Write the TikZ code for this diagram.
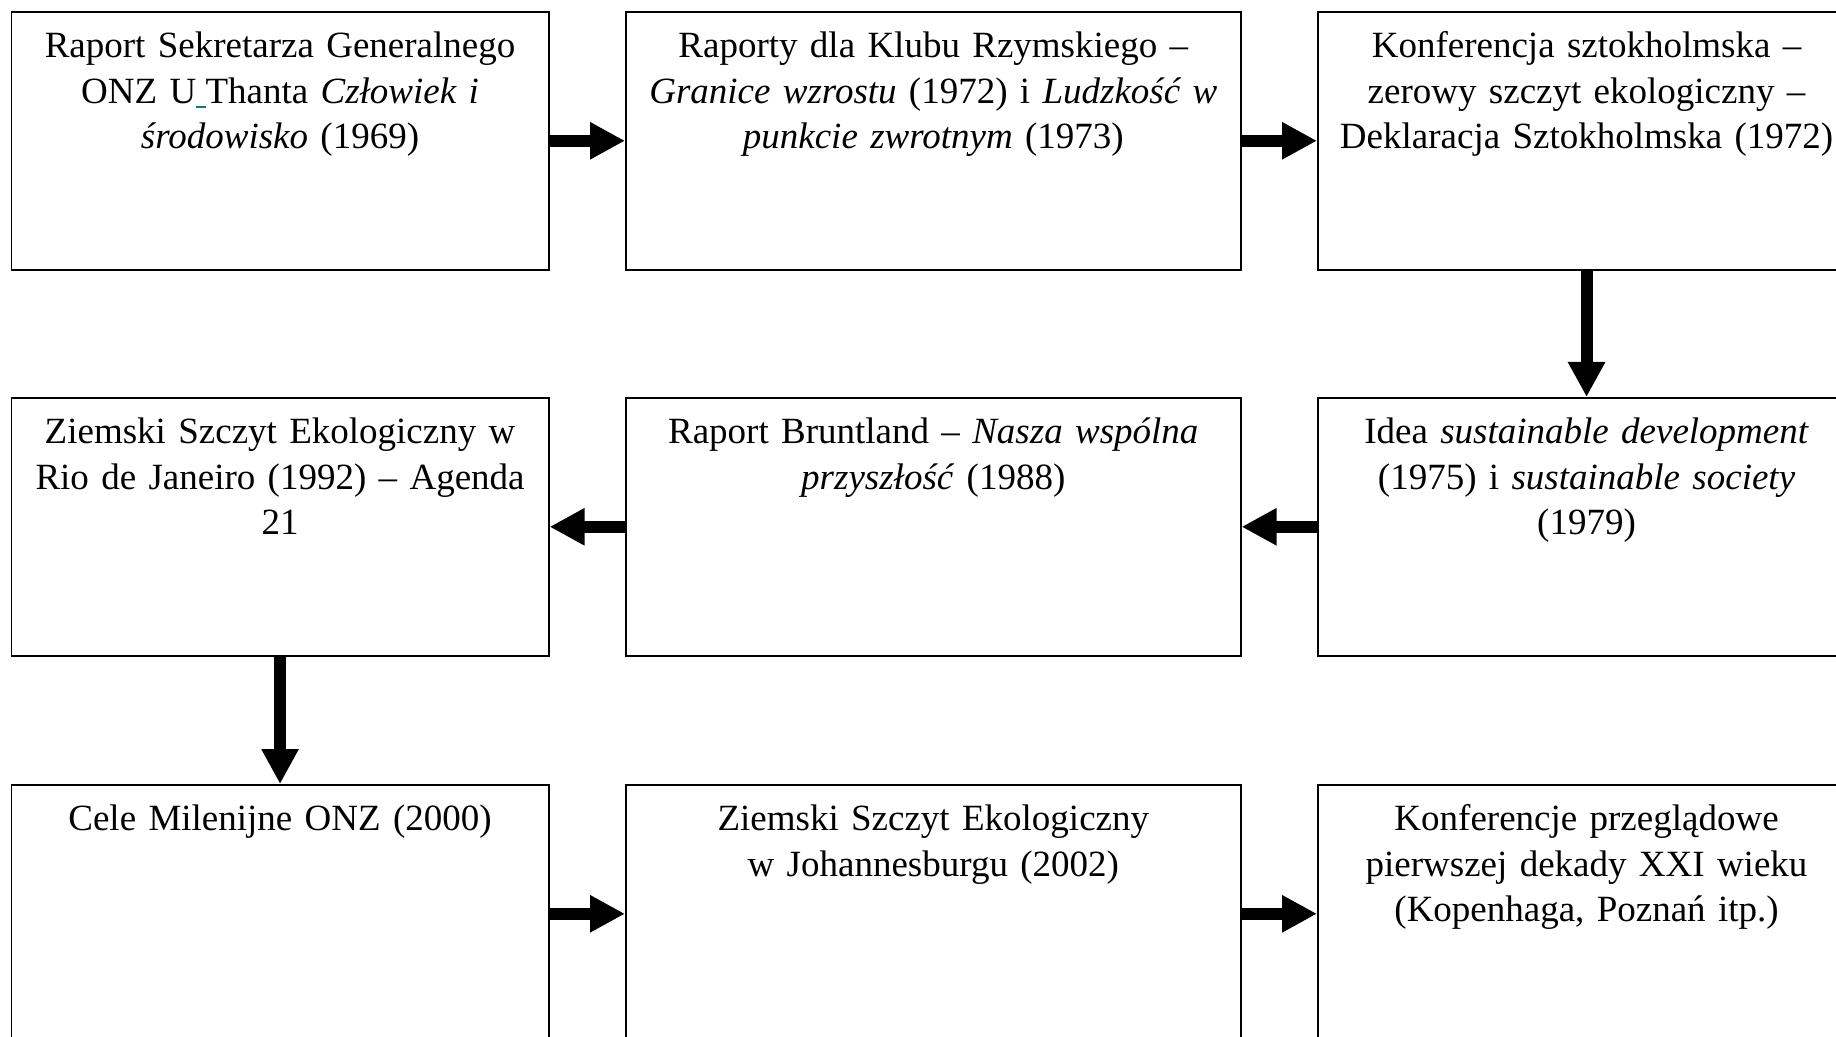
\documentclass[tikz,border=0pt]{standalone}
\usepackage{fontspec}
\setmainfont{Liberation Serif}
\usepackage{xcolor}
\usepackage{tikz}
\usetikzlibrary{positioning,arrows.meta}
\definecolor{ulmark}{RGB}{0,128,128}
\tikzset{
  stage/.style={draw, line width=0.8pt, inner sep=0pt, align=center, anchor=north west,
    text height=23pt, text depth=106pt},
  narrow/.style={stage, text width=268.75pt},
  wide/.style={stage, text width=307.5pt},
  flow/.style={line width=6pt, -{Triangle[width=17.5pt,length=17.5pt]}}
}

\begin{document}
\begin{tikzpicture}[x=0.5pt,y=-0.5pt]
  \fontsize{18.5pt}{22.75pt}\selectfont
    \path[use as bounding box, fill=white] (0,0) rectangle (1836,1037);
    \clip (0,0) rectangle (1836,1037);

    % first row
    \path (10.5,11) node[narrow] (uthant) {Raport Sekretarza Generalnego\\ ONZ U\textcolor{ulmark}{\rule[-2.5pt]{0.25em}{0.9pt}}Thanta \textit{Człowiek i}\\ \textit{środowisko} (1969)};
    \path (625,11) node[wide] (klub) {Raporty dla Klubu Rzymskiego --\\ \textit{Granice wzrostu} (1972) i \textit{Ludzkość w}\\ \textit{punkcie zwrotnym} (1973)};
    \path (1317,11) node[narrow] (sztokholm) {Konferencja sztokholmska --\\ zerowy szczyt ekologiczny --\\ Deklaracja Sztokholmska (1972)};

    % second row
    \path (10.5,397) node[narrow] (rio) {Ziemski Szczyt Ekologiczny w\\ Rio de Janeiro (1992) -- Agenda\\ 21};
    \path (625,397) node[wide] (bruntland) {Raport Bruntland -- \textit{Nasza wspólna}\\ \textit{przyszłość} (1988)};
    \path (1317,397) node[narrow] (idea) {Idea \textit{sustainable development}\\ (1975) i \textit{sustainable society}\\ (1979)};

    % third row
    \path (10.5,784) node[narrow] (milenium) {Cele Milenijne ONZ (2000)};
    \path (625,784) node[wide] (johannesburg) {Ziemski Szczyt Ekologiczny\\ w Johannesburgu (2002)};
    \path (1317,784) node[narrow] (konf) {Konferencje przeglądowe\\ pierwszej dekady XXI wieku\\ (Kopenhaga, Poznań itp.)};

    \draw[flow] (uthant.east) -- (klub.west);
    \draw[flow] (klub.east) -- (sztokholm.west);
    \draw[flow] (sztokholm.south) -- (idea.north);
    \draw[flow] (idea.west) -- (bruntland.east);
    \draw[flow] (bruntland.west) -- (rio.east);
    \draw[flow] (rio.south) -- (milenium.north);
    \draw[flow] (milenium.east) -- (johannesburg.west);
    \draw[flow] (johannesburg.east) -- (konf.west);
  \end{tikzpicture}
\end{document}
